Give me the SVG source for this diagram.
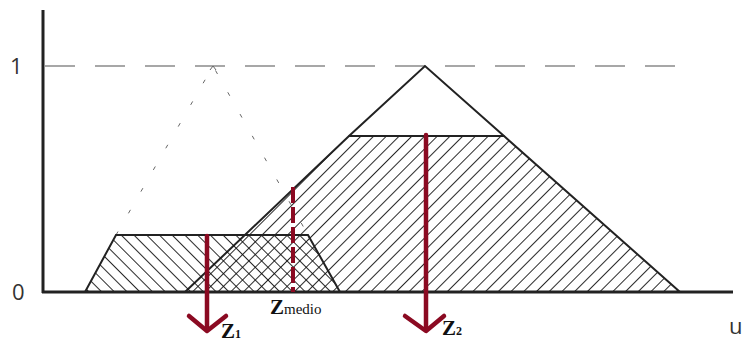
<svg xmlns="http://www.w3.org/2000/svg" width="742" height="343" viewBox="0 0 742 343">
  <style>
    .axis { stroke: #222; stroke-width: 3; fill: none; }
    .outline { stroke: #222; stroke-width: 2; stroke-linejoin: miter; }
    .guide { stroke: #8a8a8a; stroke-width: 1.5; stroke-dasharray: 30 20; fill: none; }
    .dotted { stroke: #666; stroke-width: 1; stroke-dasharray: 4 21; fill: none; }
    .red { stroke: #8b0a22; stroke-width: 4.5; fill: none; stroke-linecap: round; stroke-linejoin: round; }
    .tick { font-family: "Open Sans", "Liberation Sans", sans-serif; font-size: 22px; fill: #333; }
    .zl { font-family: "Liberation Serif", "DejaVu Serif", serif; font-weight: bold; fill: #111; }
  </style>
  <defs>
    <pattern id="hatchBack" patternUnits="userSpaceOnUse" width="9" height="9" patternTransform="rotate(-45)">
      <line x1="0" y1="0" x2="0" y2="9" stroke="#111" stroke-width="1.8"/>
    </pattern>
    <pattern id="hatchFwd" patternUnits="userSpaceOnUse" width="9" height="9" patternTransform="rotate(45)">
      <line x1="0" y1="0" x2="0" y2="9" stroke="#111" stroke-width="1.8"/>
    </pattern>
  </defs>
  <rect width="742" height="343" fill="#fff"/>

  <g id="axes">
    <line class="guide" x1="45" y1="66" x2="690" y2="66"/>
    <line class="axis" x1="43" y1="10" x2="43" y2="293"/>
    <line class="axis" x1="42" y1="292" x2="733" y2="292" stroke-width="2.5"/>
    <text class="tick" x="10" y="74">1</text>
    <text class="tick" x="12" y="300">0</text>
    <text class="tick" x="729" y="334" fill="#334">u</text>
  </g>

  <g id="original-set-1">
    <polyline class="dotted" points="116,235 213,66 308,235"/>
    <path d="M210,70 L213,66 L216,70" stroke="#666" stroke-width="1" fill="none"/>
  </g>

  <g id="set-2">
    <polygon points="185,292 349,136 504,136 680,292" fill="url(#hatchFwd)" class="outline"/>
    <polyline points="349,136 425,66 504,136" class="outline" fill="none"/>
  </g>

  <g id="set-1">
    <polygon points="85,292 116,235 308,235 340,292" fill="url(#hatchBack)" class="outline"/>
  </g>

  <g id="connectors">
    <g id="z1">
      <line class="red" x1="207" y1="236" x2="207" y2="330"/>
      <polyline class="red" points="189,316 207,331 226,316"/>
    </g>
    <g id="zmedio">
      <line x1="293" y1="187" x2="293" y2="292" stroke="#8b0a22" stroke-width="4" stroke-dasharray="16 4"/>
    </g>
    <g id="z2">
      <line class="red" x1="426" y1="135" x2="426" y2="330"/>
      <polyline class="red" points="405,316 426,331 444,316"/>
    </g>
  </g>

  <g id="labels">
    <text class="zl" x="221" y="338" font-size="21">Z<tspan font-size="12">1</tspan></text>
    <text class="zl" x="270" y="314" font-size="21">Z<tspan font-size="15" font-weight="normal">medio</tspan></text>
    <text class="zl" x="442" y="335" font-size="21">Z<tspan font-size="12">2</tspan></text>
  </g>
</svg>
